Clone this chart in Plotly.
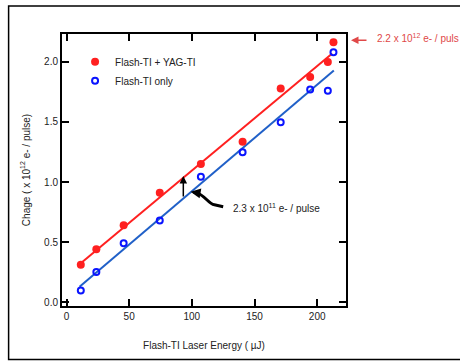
import numpy as np
import plotly.graph_objects as go

# ---- data ----
energy = [11.4, 23.8, 45.6, 74.4, 107.2, 140.5, 170.9, 194.4, 208.5, 213.0]
charge_flash_yag = [0.31, 0.44, 0.64, 0.91, 1.15, 1.336, 1.78, 1.875, 2.00, 2.164]
charge_flash_only = [0.097, 0.25, 0.49, 0.68, 1.044, 1.247, 1.497, 1.77, 1.76, 2.08]
fit_x_red = [9.0, 212.0]
fit_x_blue = [10.4, 213.3]
x_ticks = [0, 50, 100, 150, 200]
y_ticks = [0.0, 0.5, 1.0, 1.5, 2.0]

red_coef = np.polyfit(energy, charge_flash_yag, 1)
blue_coef = np.polyfit(energy, charge_flash_only, 1)

RED = "#ff2020"
BLUE_LINE = "#2060c8"
BLUE_MK = "#0a14ff"
TXT = "#222222"
FONT = "Arial"

fig = go.Figure()
fig.add_trace(go.Scatter(x=fit_x_red, y=list(np.polyval(red_coef, fit_x_red)), mode="lines",
                         line=dict(color=RED, width=2), showlegend=False, hoverinfo="skip"))
fig.add_trace(go.Scatter(x=fit_x_blue, y=list(np.polyval(blue_coef, fit_x_blue)), mode="lines",
                         line=dict(color=BLUE_LINE, width=2), showlegend=False, hoverinfo="skip"))
fig.add_trace(go.Scatter(x=energy, y=charge_flash_yag, mode="markers", name="Flash-TI + YAG-TI",
                         marker=dict(color=RED, size=8, symbol="circle", line=dict(width=0))))
fig.add_trace(go.Scatter(x=energy, y=charge_flash_only, mode="markers", name="Flash-TI only",
                         marker=dict(color=BLUE_MK, size=6, symbol="circle-open", line=dict(width=2, color=BLUE_MK))))

axis_common = dict(showline=True, linecolor="black", linewidth=2, mirror="ticks",
                   ticks="inside", ticklen=7, tickwidth=1.5, tickcolor="black",
                   showgrid=False, zeroline=False,
                   tickfont=dict(family=FONT, size=10, color=TXT))

fig.update_xaxes(range=[-3.6, 223], tickvals=x_ticks,
                 title=dict(text="Flash-TI Laser Energy ( µJ)", font=dict(family=FONT, size=10, color=TXT), standoff=21),
                 **axis_common)
fig.update_yaxes(range=[-0.033, 2.233], tickvals=y_ticks, tickformat=".1f",
                 title=dict(text="Chage ( x 10<sup>12</sup> e- / pulse)", font=dict(family=FONT, size=10, color=TXT), standoff=12),
                 **axis_common)

# vertical arrow (gap between lines)
fig.add_annotation(x=93.2, y=1.05, ax=93.2, ay=0.867, axref="x", ayref="y", xref="x", yref="y",
                   text="", showarrow=True, arrowhead=2, arrowsize=1, arrowwidth=1.5, arrowcolor="black")
# curved arrow
fig.add_shape(type="path", xref="x", yref="y",
              path="M 125,0.794 L 118,0.81 C 113,0.82 111,0.885 104,0.91",
              line=dict(color="black", width=3))
fig.add_annotation(x=99.0, y=0.919, ax=104.5, ay=0.909, axref="x", ayref="y", xref="x", yref="y",
                   text="", showarrow=True, arrowhead=2, arrowsize=0.8, arrowwidth=2.5, arrowcolor="black")
fig.add_annotation(x=131.5, y=0.786, xref="x", yref="y", xanchor="left", yanchor="middle",
                   text="2.3 x 10<sup>11</sup> e- / pulse", showarrow=False,
                   font=dict(family=FONT, size=10, color=TXT))

# top-right annotation
fig.add_annotation(x=1.0176, y=0.977, xref="paper", yref="paper", ax=17, ay=0,
                   text="", showarrow=True, arrowhead=2, arrowsize=1, arrowwidth=1.5, arrowcolor="#e04848")
fig.add_annotation(x=1.102, y=0.985, xref="paper", yref="paper", xanchor="left", yanchor="middle",
                   text="2.2 x 10<sup>12</sup> e- / puls", showarrow=False,
                   font=dict(family=FONT, size=10, color="#e04848"))

# outer frame
fig.add_shape(type="rect", xref="paper", yref="paper", x0=-0.188, x1=1.45, y0=-0.197, y1=1.103,
              line=dict(color="black", width=1.5), layer="below")

fig.update_layout(
    width=460, height=362,
    margin=dict(l=62, r=114, t=34, b=56),
    paper_bgcolor="white", plot_bgcolor="white",
    font=dict(family=FONT, size=10, color=TXT),
    legend=dict(x=0.046, y=0.951, xanchor="left", yanchor="top", bgcolor="rgba(0,0,0,0)",
                font=dict(family=FONT, size=10, color=TXT), itemwidth=30),
)

fig.write_html("out.html", config={"displayModeBar": False},
               post_script="document.body.style.margin='0';")
